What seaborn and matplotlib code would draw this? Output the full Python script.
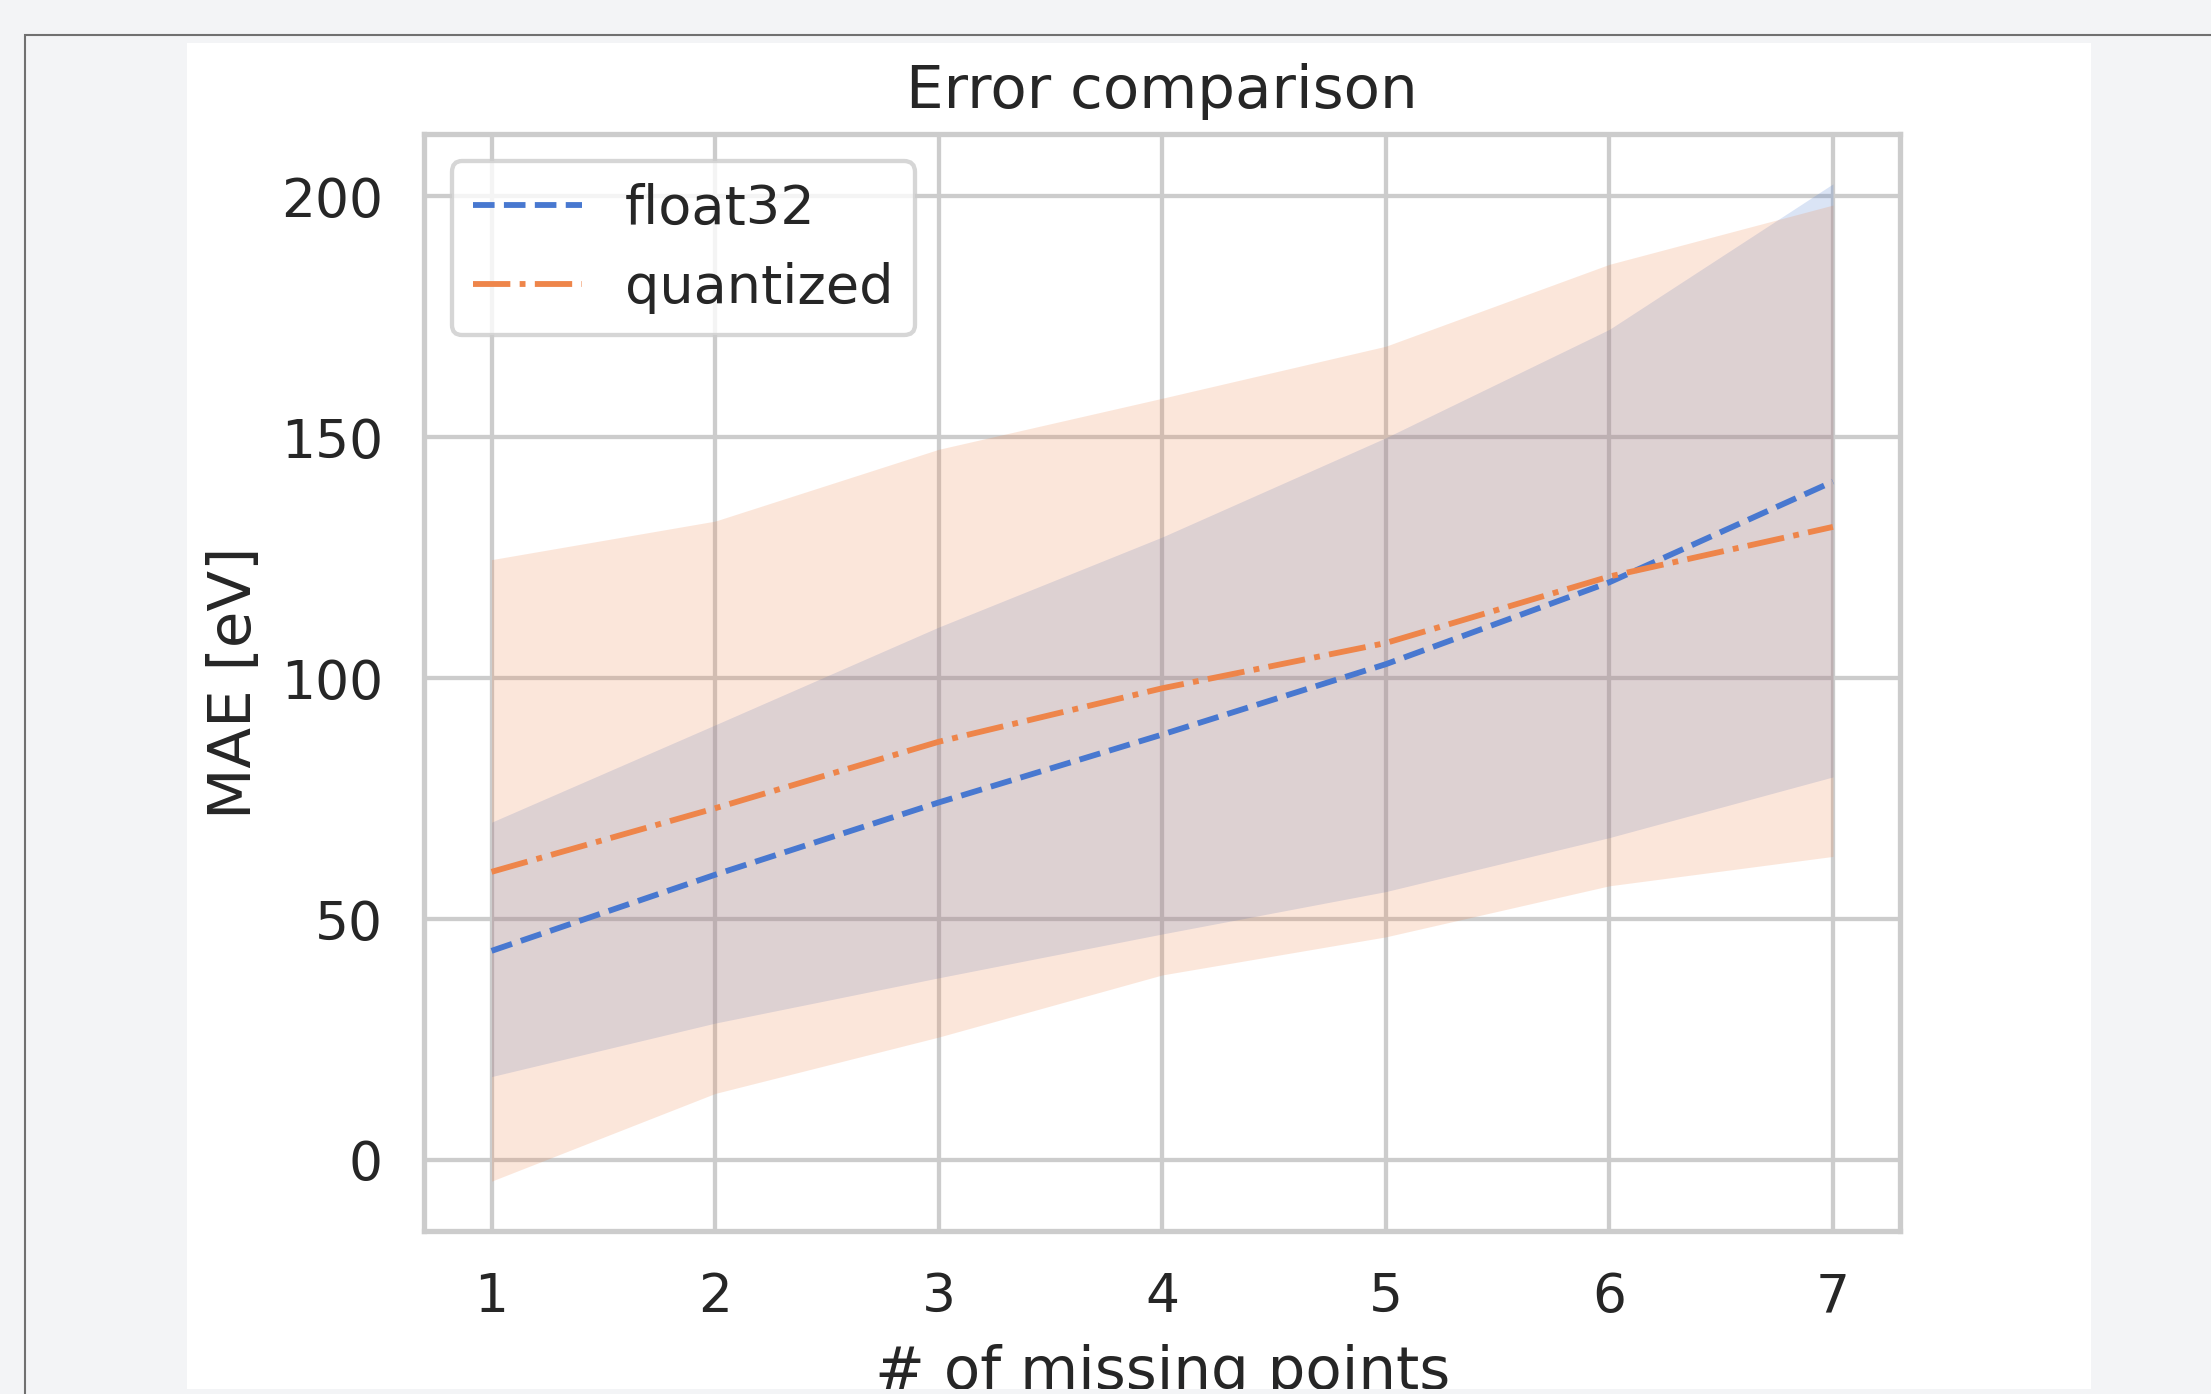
import numpy as np
import pandas as pd
import seaborn as sns
import matplotlib.pyplot as plt
from matplotlib.patches import Rectangle

# values
n_missing = [1, 2, 3, 4, 5, 6, 7]

float32_mae = [43.4, 59.2, 74.2, 88.3, 102.9, 119.9, 140.8]
float32_low = [17.3, 28.4, 37.8, 46.9, 55.7, 66.9, 79.5]
float32_high = [70.1, 90.3, 110.6, 129.3, 149.9, 172.4, 202.6]

quant_mae = [59.8, 73.0, 86.8, 97.9, 107.3, 121.1, 131.4]
quant_low = [-4.4, 13.8, 25.5, 38.4, 46.3, 56.9, 63.0]
quant_high = [124.6, 132.6, 147.5, 158.1, 168.9, 185.9, 198.2]

W, H = 2211, 1394

sns.set_theme(style="whitegrid", palette="muted")
plt.rcParams['font.family'] = ['DejaVu Sans']
plt.rcParams.update({
    'axes.edgecolor': '.8',
    'axes.linewidth': 3.8,
    'grid.linewidth': 3.1,
    'grid.color': '.8',
    'xtick.major.size': 0,
    'ytick.major.size': 0,
    'xtick.major.pad': 29,
    'ytick.major.pad': 30,
})
pal = sns.color_palette("muted")

fig = plt.figure(figsize=(W / 100, H / 100), dpi=100, facecolor='#f3f4f6')

# page frame + white image area
fig.add_artist(Rectangle((25 / W, -0.1), 2, 1 - 35 / H + 0.1, transform=fig.transFigure,
                         fill=False, edgecolor='#707070', linewidth=1.5, zorder=-3))
fig.add_artist(Rectangle((187 / W, 1 - 1389 / H), (2091 - 187) / W, (1389 - 43) / H,
                         transform=fig.transFigure, facecolor='white', edgecolor='none', zorder=-2))

ax = fig.add_axes([424.5 / W, 1 - 1231 / H, (1900 - 424.5) / W, (1231 - 134) / H])

sns.lineplot(x=n_missing, y=float32_mae, color=pal[0], linestyle='--', linewidth=4.2,
             label='float32', ax=ax)
ax.fill_between(n_missing, float32_low, float32_high, color=pal[0], alpha=0.2, linewidth=0)
sns.lineplot(x=n_missing, y=quant_mae, color=pal[1], linestyle='-.', linewidth=4.2,
             label='quantized', ax=ax)
ax.fill_between(n_missing, quant_low, quant_high, color=pal[1], alpha=0.2, linewidth=0)

ax.set_title('Error comparison', fontsize=42.8, pad=19)
ax.set_xlabel('# of missing points', fontsize=42.8, labelpad=15)
ax.set_ylabel('MAE [eV]', fontsize=42.8, labelpad=13)
ax.tick_params(axis='both', labelsize=38.5)
ax.set_yticks([0, 50, 100, 150, 200])
ax.legend(loc='upper left', fontsize=39, framealpha=0.8, edgecolor='.8')
ax.legend_.get_frame().set_linewidth(3.1)

# the screenshot cuts the x label off at the bottom
fig.add_artist(Rectangle((187 / W, 0), (2091 - 187) / W, (H - 1389) / H,
                         transform=fig.transFigure, facecolor='#f3f4f6', edgecolor='none', zorder=10))

fig.savefig('out.png', dpi=100, facecolor=fig.get_facecolor())
